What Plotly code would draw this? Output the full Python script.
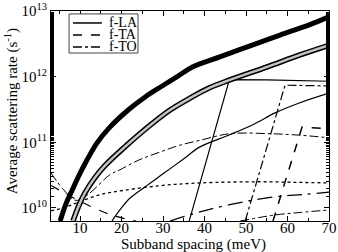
import plotly.graph_objects as go

# ---- data (x: subband spacing in meV, y: average scattering rate in s^-1) ----
tot_x = [5.2, 6.6, 8.1, 9.5, 11.7, 14.1, 17.2, 21.6, 25.7, 29.8, 33.6, 37.2, 43.7, 51.0, 58.2, 65.4, 69.8]
tot_y = [6.3e9, 1.15e10, 1.86e10, 2.9e10, 5.4e10, 9.8e10, 1.7e11, 3.1e11, 4.9e11, 7.2e11,
         1.02e12, 1.41e12, 2.0e12, 2.95e12, 4.3e12, 6.2e12, 8.1e12]

circ_x = [8.3, 9.8, 11.2, 13.6, 16.0, 20.8, 26.9, 31.7, 36.5, 41.3, 46.1, 55.1, 63.0, 70]
circ_y = [6.3e9, 1.12e10, 1.7e10, 2.9e10, 4.4e10, 8.5e10, 1.82e11, 3.1e11, 4.7e11, 6.8e11,
          8.9e11, 1.41e12, 2.14e12, 3.0e12]

la_abs_x = [17.7, 19.6, 22, 25.7, 30, 35, 38.9, 46.1, 52, 57, 63, 70]
la_abs_y = [6.3e9, 9.3e9, 1.4e10, 2.1e10, 3.3e10, 5.6e10, 8.5e10, 1.3e11, 1.9e11, 2.8e11, 4.0e11, 5.6e11]

la_em_x = [36.3, 46.0, 55, 70]
la_em_y = [6.3e9, 9.0e11, 8.9e11, 8.5e11]

to_em_x = [49.8, 59.4, 65, 70]
to_em_y = [6.3e9, 7.4e11, 7.3e11, 7.2e11]

ta_em_x = [56.5, 63.5, 67, 70]
ta_em_y = [6.3e9, 1.7e11, 1.65e11, 1.6e11]

to_abs_x = [3, 6, 9, 11.9, 17.2, 19.6, 24, 29.3, 34, 38.9, 46.1, 55.8, 63, 70]
to_abs_y = [3.4e10, 1.9e10, 1.3e10, 1.6e10, 3.2e10, 3.8e10, 5.3e10, 7.1e10, 9.0e10, 1.07e11,
            1.35e11, 1.35e11, 1.28e11, 1.17e11]

dot_x = [3, 6, 9.3, 15, 20.8, 30, 38.9, 53.4, 62, 70]
dot_y = [9.0e9, 1.0e10, 1.2e10, 1.6e10, 1.86e10, 2.2e10, 2.4e10, 2.5e10, 2.45e10, 2.4e10]

ta_abs_x = [3, 10, 17, 21, 23.5]
ta_abs_y = [2.2e10, 1.26e10, 8.0e9, 6.8e9, 6.3e9]

to_mid_x = [31.7, 38.9, 46.1, 57, 64, 70]
to_mid_y = [6.3e9, 8.7e9, 1.12e10, 1.48e10, 1.6e10, 1.74e10]

to_low_x = [48.6, 57, 63, 70]
to_low_y = [6.3e9, 7.8e9, 8.5e9, 9.3e9]

legend_names = ["f-LA", "f-TA", "f-TO"]
legend_dash = ["solid", "dash", "dashdot"]

fig = go.Figure()

def add(x, y, dash, width=1.2, color="black", shape="linear"):
    fig.add_trace(go.Scatter(x=x, y=y, mode="lines",
                             line=dict(color=color, width=width, dash=dash, shape=shape),
                             showlegend=False, hoverinfo="skip"))

add(la_abs_x, la_abs_y, "solid", shape="spline")
add(ta_em_x, ta_em_y, "dash", width=1.5)
add(to_em_x, to_em_y, "dashdot")
add(la_em_x, la_em_y, "solid")
add(to_abs_x, to_abs_y, "dashdot", width=1.0, shape="spline")
add(dot_x, dot_y, "dot", width=1.3, shape="spline")
add(ta_abs_x, ta_abs_y, "dash", width=1.2, shape="spline")
add(to_mid_x, to_mid_y, "longdashdot", width=1.3, shape="spline")
add(to_low_x, to_low_y, "dashdot", width=1.0, shape="spline")
# thick curves
add(tot_x, tot_y, "solid", width=5, shape="spline")
add(circ_x, circ_y, "solid", width=5.5, shape="spline")
add(circ_x, circ_y, "solid", width=2.5, color="#c4c4c4", shape="spline")

serif = "Liberation Serif, Times New Roman, serif"

# manual legend box (paper coordinates)
shapes = [dict(type="rect", xref="paper", yref="paper", x0=0.065, x1=0.313, y0=0.80, y1=0.986,
               line=dict(color="#444444", width=1), fillcolor="white", layer="above")]
annotations = []
rows_y = [0.943, 0.886, 0.829]
for name, dash, ry in zip(legend_names, legend_dash, rows_y):
    shapes.append(dict(type="line", xref="paper", yref="paper", x0=0.079, x1=0.183, y0=ry, y1=ry,
                       line=dict(color="black", width=1.5, dash=dash), layer="above"))
    annotations.append(dict(xref="paper", yref="paper", x=0.203, y=ry, text=name, showarrow=False,
                            xanchor="left", yanchor="middle", font=dict(size=14, family=serif)))

annotations.append(dict(xref="paper", yref="paper", x=0.514, y=-0.11, text="Subband spacing (meV)",
                        showarrow=False, xanchor="center", yanchor="middle", font=dict(size=15, family=serif)))
annotations.append(dict(xref="paper", yref="paper", x=-0.142, y=0.52, text="Average scattering rate (s<sup>-1</sup>)",
                        showarrow=False, textangle=-90, xanchor="center", yanchor="middle",
                        font=dict(size=15, family=serif)))

fig.update_layout(
    width=338, height=252,
    margin=dict(l=51, r=9, t=11, b=31),
    paper_bgcolor="white", plot_bgcolor="white",
    font=dict(family=serif, size=15, color="black"),
    shapes=shapes, annotations=annotations, showlegend=False,
)
fig.update_xaxes(range=[3, 70], tickvals=[10, 20, 30, 40, 50, 60, 70], automargin=False,
                 ticks="inside", ticklen=5, tickcolor="black", mirror="allticks",
                 showline=True, linecolor="black", linewidth=1.2, showgrid=False, zeroline=False,
                 minor=dict(ticks="inside", ticklen=3, dtick=5, tickcolor="black"),
                 ticklabelstandoff=-7,
                 tickfont=dict(size=15, family=serif))
fig.update_yaxes(type="log", range=[9.8, 13], tickvals=[1e10, 1e11, 1e12, 1e13], automargin=False,
                 ticktext=["10<sup>10</sup>", "10<sup>11</sup>", "10<sup>12</sup>", "10<sup>13</sup>"],
                 ticks="inside", ticklen=5, tickcolor="black", mirror="allticks",
                 showline=True, linecolor="black", linewidth=1.2, showgrid=False, zeroline=False,
                 minor=dict(ticks="inside", ticklen=3, tickcolor="black", showgrid=False),
                 tickfont=dict(size=15, family=serif))

fig.write_html("out.html", config={"displayModeBar": False},
               post_script="document.body.style.margin='0';document.body.style.padding='0';")
